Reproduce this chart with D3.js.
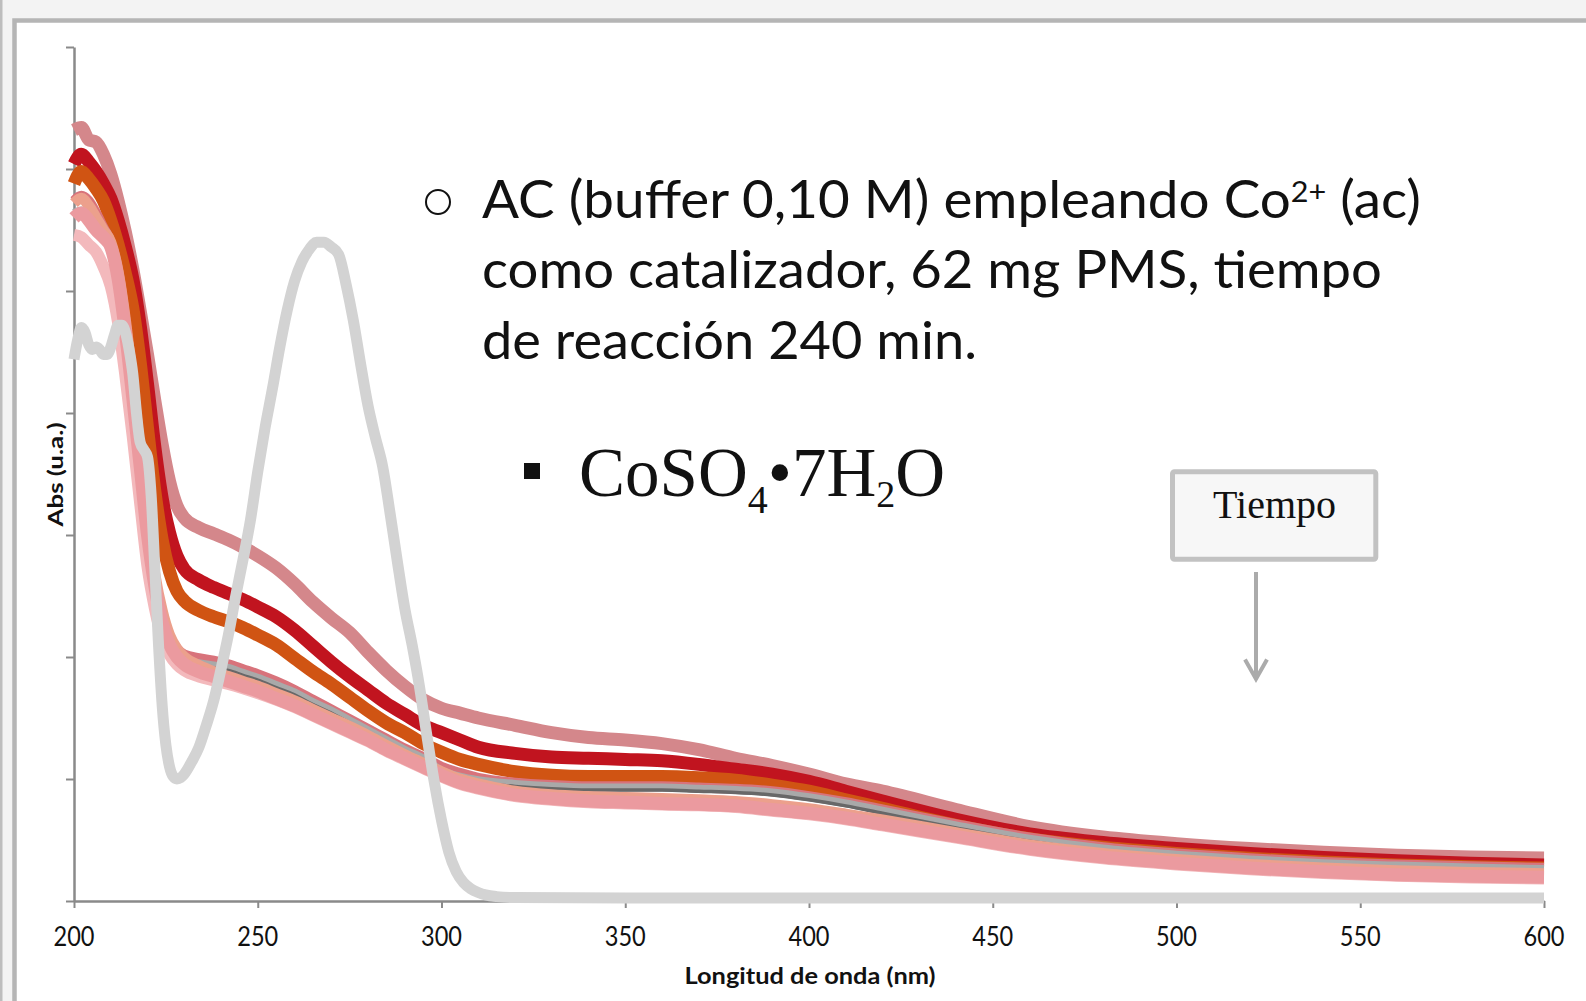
<!DOCTYPE html>
<html><head><meta charset="utf-8">
<script src="https://cdn.jsdelivr.net/npm/d3@7"></script>
<style>html,body{margin:0;padding:0;background:#fff;overflow:hidden}</style>
</head><body>
<svg id="c" width="1586" height="1001"></svg>
<script>
// ---------- DATA ----------
const wl = [200,202,204,206,208,210,212,214,216,218,220,222,224,226,228,230,234,238,242,246,250,255,260,265,270,275,280,285,290,295,300,305,310,320,330,340,350,360,370,380,390,400,410,420,440,460,480,500,520,540,560,580,600];

const absRose = [3.16,3.17,3.12,3.11,3.06,2.98,2.87,2.74,2.59,2.42,2.24,2.05,1.87,1.72,1.62,1.57,1.53,1.505,1.48,1.45,1.415,1.365,1.30,1.225,1.16,1.10,1.02,0.945,0.88,0.825,0.79,0.77,0.75,0.72,0.69,0.67,0.66,0.645,0.62,0.585,0.555,0.52,0.48,0.45,0.375,0.305,0.262,0.235,0.215,0.20,0.188,0.18,0.176];
const absRed = [3.02,3.06,3.03,2.99,2.94,2.88,2.79,2.68,2.55,2.36,2.12,1.86,1.65,1.51,1.415,1.36,1.315,1.285,1.26,1.235,1.205,1.165,1.11,1.045,0.98,0.92,0.865,0.81,0.765,0.72,0.69,0.66,0.63,0.605,0.59,0.585,0.58,0.575,0.56,0.54,0.52,0.49,0.45,0.41,0.335,0.275,0.24,0.215,0.195,0.178,0.165,0.155,0.148];
const absOrange = [2.94,2.99,2.96,2.92,2.87,2.79,2.69,2.57,2.43,2.21,1.94,1.68,1.48,1.35,1.27,1.23,1.19,1.165,1.145,1.12,1.09,1.05,0.995,0.94,0.89,0.835,0.78,0.73,0.69,0.645,0.61,0.58,0.56,0.53,0.515,0.51,0.51,0.51,0.505,0.495,0.475,0.45,0.415,0.38,0.31,0.255,0.22,0.195,0.175,0.16,0.148,0.14,0.135];
const absLightPink = [2.73,2.72,2.69,2.66,2.60,2.52,2.37,2.15,1.90,1.63,1.37,1.20,1.08,1.01,0.97,0.945,0.92,0.905,0.89,0.872,0.852,0.825,0.795,0.76,0.725,0.69,0.655,0.615,0.58,0.545,0.51,0.48,0.46,0.43,0.415,0.405,0.40,0.395,0.392,0.385,0.37,0.355,0.335,0.31,0.26,0.21,0.175,0.15,0.13,0.115,0.103,0.096,0.092];
const absDarkPink = [2.87,2.89,2.87,2.82,2.76,2.70,2.57,2.36,2.09,1.81,1.53,1.32,1.17,1.08,1.035,1.01,0.995,0.985,0.97,0.95,0.93,0.90,0.865,0.825,0.785,0.745,0.705,0.665,0.625,0.59,0.55,0.525,0.505,0.485,0.475,0.47,0.47,0.47,0.465,0.46,0.45,0.43,0.405,0.375,0.315,0.26,0.22,0.195,0.175,0.16,0.15,0.142,0.136];
const absGray = [2.82,2.83,2.80,2.77,2.73,2.69,2.56,2.34,2.07,1.79,1.51,1.30,1.15,1.06,1.015,0.99,0.975,0.965,0.955,0.935,0.915,0.885,0.855,0.815,0.78,0.74,0.70,0.66,0.62,0.585,0.535,0.51,0.495,0.48,0.47,0.465,0.465,0.465,0.46,0.455,0.445,0.425,0.40,0.37,0.31,0.255,0.215,0.19,0.17,0.155,0.145,0.137,0.131];
const absSalmon = [2.86,2.88,2.85,2.80,2.75,2.70,2.58,2.38,2.12,1.84,1.56,1.34,1.19,1.09,1.035,1.0,0.965,0.94,0.92,0.90,0.88,0.85,0.82,0.785,0.75,0.715,0.678,0.638,0.60,0.565,0.53,0.50,0.48,0.45,0.435,0.428,0.424,0.42,0.415,0.408,0.395,0.378,0.356,0.332,0.28,0.23,0.195,0.17,0.15,0.135,0.124,0.117,0.112];
const absPink = [2.80,2.82,2.79,2.75,2.72,2.68,2.55,2.33,2.06,1.78,1.50,1.29,1.14,1.05,1.00,0.97,0.94,0.92,0.90,0.88,0.86,0.83,0.80,0.765,0.73,0.695,0.66,0.62,0.585,0.55,0.515,0.485,0.465,0.435,0.42,0.41,0.405,0.40,0.397,0.39,0.375,0.36,0.34,0.315,0.265,0.215,0.18,0.155,0.135,0.12,0.108,0.101,0.097];

// reference spectrum (light grey)
const refWl = [200,201,202,203,204,205,206,207,208,209,210,211,212,213,214,215,216,217,218,219,220,221,222,223,224,225,226,227,228,229,230,232,234,236,238,240,242,244,246,248,250,252,254,256,258,260,262,264,266,268,270,272,274,276,278,280,282,284,286,288,290,292,294,296,298,300,302,304,306,308,310,312,315,320,350,400,450,500,550,600];
const refAbs = [2.22,2.30,2.35,2.33,2.28,2.26,2.27,2.26,2.24,2.24,2.27,2.32,2.36,2.36,2.33,2.26,2.16,2.00,1.88,1.85,1.82,1.66,1.36,1.05,0.80,0.64,0.55,0.51,0.50,0.505,0.52,0.57,0.63,0.72,0.82,0.95,1.09,1.25,1.40,1.56,1.76,1.94,2.10,2.27,2.42,2.54,2.62,2.67,2.70,2.70,2.68,2.65,2.53,2.38,2.20,2.03,1.90,1.78,1.59,1.39,1.20,1.05,0.88,0.68,0.49,0.33,0.20,0.12,0.075,0.05,0.035,0.025,0.018,0.014,0.012,0.012,0.012,0.012,0.012,0.012];

const xTicks = [200,250,300,350,400,450,500,550,600];
const yTicks = [0,0.5,1,1.5,2,2.5,3,3.5];

// ---------- DRAW ----------
const svg = d3.select("#c");
const W = 1586, H = 1001;

svg.append("rect").attr("width",W).attr("height",H).attr("fill","#f3f3f3");
svg.append("rect").attr("x",0).attr("y",0).attr("width",2.5).attr("height",H).attr("fill","#bdbdbd");
svg.append("rect").attr("x",14.5).attr("y",20.5).attr("width",W+20).attr("height",H+20)
  .attr("fill","#ffffff").attr("stroke","#b5b5b5").attr("stroke-width",4.5);

const x = d3.scaleLinear().domain([200,600]).range([74,1544]);
const y = d3.scaleLinear().domain([0,3.5]).range([901,47]);

const fit = (sel,w)=>sel.attr("textLength",w).attr("lengthAdjust","spacingAndGlyphs");

// axes
const axisColor = "#8a8a8a";
const gy = svg.append("g").attr("transform","translate(74,0)")
  .call(d3.axisLeft(y).tickValues(yTicks).tickSize(8).tickSizeOuter(0).tickFormat(""));
const gx = svg.append("g").attr("transform","translate(0,901)")
  .call(d3.axisBottom(x).tickValues(xTicks).tickSize(7).tickSizeOuter(0).tickFormat(""));
[gy,gx].forEach(g=>{
  g.select(".domain").attr("stroke",axisColor).attr("stroke-width",2.5);
  g.selectAll(".tick line").attr("stroke",axisColor).attr("stroke-width",2);
});
// x tick labels
svg.append("g").selectAll("text").data(xTicks).join("text")
  .attr("x",d=>x(d)).attr("y",946).attr("text-anchor","middle")
  .style("font-family","Lato").style("font-size","26px").attr("fill","#111")
  .text(d=>d).each(function(){fit(d3.select(this),41);});

// axis titles
fit(svg.append("text").attr("x",810).attr("y",984).attr("text-anchor","middle")
  .style("font-family","Lato").style("font-weight","bold").style("font-size","22px")
  .attr("fill","#111").text("Longitud de onda (nm)"),251);
fit(svg.append("text").attr("transform","translate(63,474.5) rotate(-90)").attr("text-anchor","middle")
  .style("font-family","Lato").style("font-weight","bold").style("font-size","21px")
  .attr("fill","#111").text("Abs (u.a.)"),104);

// series
const line = d3.line().x(d=>x(d[0])).y(d=>y(d[1])).curve(d3.curveMonotoneX);
const pts = (w,a)=>w.map((v,i)=>[v,a[i]]);
const series = [
  {v:absRose, c:"#d4878b", w:13},
  {v:absRed, c:"#c1141f", w:13},
  {v:absOrange, c:"#d05413", w:13},
  {v:absLightPink, c:"#f3b9bc", w:12},
  {v:absDarkPink, c:"#d8737b", w:10},
  {v:absGray, c:"#a9a9a9", w:8},
  {v:absGray, c:"#686868", w:3.5, dy:2.5},
  {v:absSalmon, c:"#eca08c", w:11},
  {v:absPink, c:"#eb9a9f", w:13}
];
const gl = svg.append("g").attr("fill","none").attr("stroke-linejoin","round").attr("stroke-linecap","butt");
series.forEach(s=>{
  gl.append("path").attr("d",line(pts(wl,s.v))).attr("stroke",s.c).attr("stroke-width",s.w)
    .attr("transform", s.dy ? `translate(0,${s.dy})` : null);
});
gl.append("path").attr("d",line(pts(refWl,refAbs))).attr("stroke","#d3d3d3").attr("stroke-width",11);

// annotation text
svg.append("circle").attr("cx",438).attr("cy",202).attr("r",12).attr("fill","none").attr("stroke","#111").attr("stroke-width",2);
const tf = "Lato";
const t1 = svg.append("text").attr("x",482).attr("y",217.5).style("font-family",tf).style("font-size","52px").attr("fill","#111");
t1.append("tspan").text("AC (buffer 0,10 M) empleando Co");
t1.append("tspan").attr("dy",-15.5).style("font-size","29px").text("2+");
t1.append("tspan").attr("dy",15.5).style("font-size","52px").text(" (ac)");
fit(t1,939);
fit(svg.append("text").attr("x",482).attr("y",288).style("font-family",tf).style("font-size","52px").attr("fill","#111")
  .text("como catalizador, 62 mg PMS, tiempo"),900);
fit(svg.append("text").attr("x",482).attr("y",359).style("font-family",tf).style("font-size","52px").attr("fill","#111")
  .text("de reacción 240 min."),495);

svg.append("rect").attr("x",524).attr("y",463).attr("width",16).attr("height",16).attr("fill","#111");
const t2 = svg.append("text").attr("x",579).attr("y",496).style("font-family","Liberation Serif").style("font-size","69px").attr("fill","#111");
t2.append("tspan").text("CoSO");
t2.append("tspan").attr("dy",17).style("font-size","40px").text("4");
t2.append("tspan").attr("dy",-17).style("font-size","69px").text("•7H");
t2.append("tspan").attr("dy",11).style("font-size","38px").text("2");
t2.append("tspan").attr("dy",-11).style("font-size","69px").text("O");

// Tiempo box + arrow
svg.append("rect").attr("x",1172.5).attr("y",471.8).attr("width",203.3).attr("height",87.4).attr("rx",2)
  .attr("fill","#f7f7f7").attr("stroke","#c2c2c2").attr("stroke-width",5);
fit(svg.append("text").attr("x",1274.5).attr("y",518).attr("text-anchor","middle")
  .style("font-family","Liberation Serif").style("font-size","40px").attr("fill","#111").text("Tiempo"),123);
svg.append("line").attr("x1",1256).attr("x2",1256).attr("y1",572).attr("y2",678)
  .attr("stroke","#ababab").attr("stroke-width",4);
svg.append("path").attr("d","M1245,659.5L1256,679L1267,659.5").attr("fill","none")
  .attr("stroke","#ababab").attr("stroke-width",4).attr("stroke-linejoin","miter");
</script></body></html>
